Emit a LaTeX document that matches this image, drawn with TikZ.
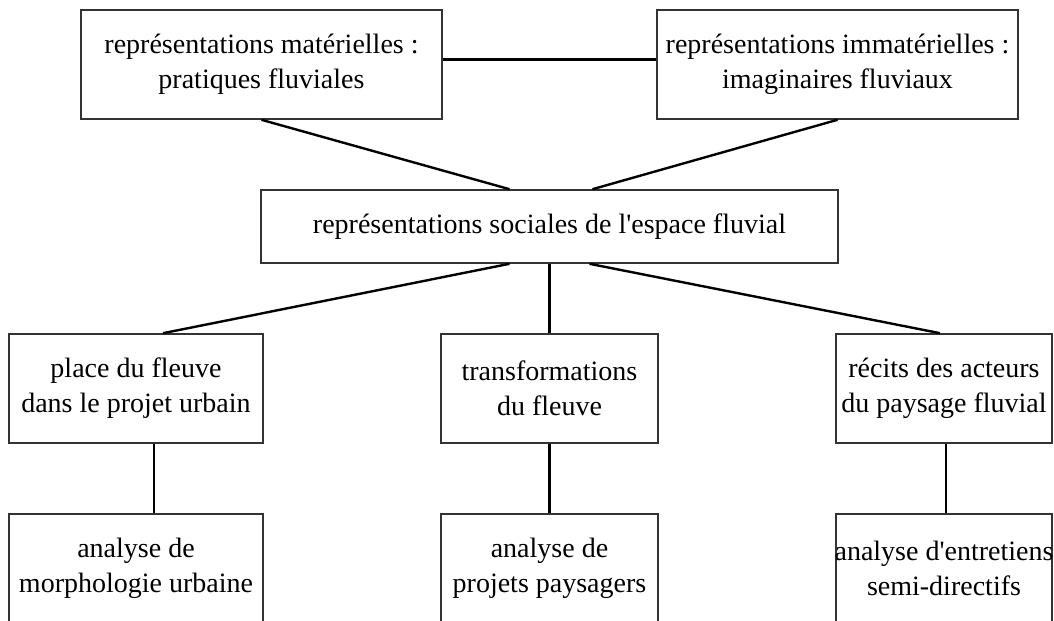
\documentclass[tikz,border=0pt]{standalone}
\usepackage{fontspec}
\newfontfamily\diagfont{Liberation Serif}
\usetikzlibrary{calc}
\begin{document}
\begin{tikzpicture}[x=0.75pt,y=-0.75pt,
  box/.style={draw=black!80, line width=1.2pt, fill=white, align=center, inner sep=0pt,
    font=\diagfont\fontsize{21}{26.25}\selectfont},
  link/.style={line width=1.8pt, draw=black}]
\useasboundingbox (0,0) rectangle (1054,621);
% top row
\node[box, minimum width=270.75pt, minimum height=81.75pt] (tl) at (261.5,64.5)
  {représentations matérielles :\\pratiques fluviales};
\node[box, minimum width=270.75pt, minimum height=81.75pt] (tr) at (837.5,64.5)
  {représentations immatérielles :\\imaginaires fluviaux};
% middle
\node[box, minimum width=432.75pt, minimum height=54.75pt] (mid) at (549.5,226.5)
  {représentations sociales de l'espace fluvial};
% second row
\node[box, minimum width=190.5pt, minimum height=81.75pt] (pl) at (136,388.5)
  {place du fleuve\\dans le projet urbain};
\node[box, minimum width=162.75pt, minimum height=81.75pt] (tf) at (549.5,388.5)
  {transformations\\du fleuve};
\node[box, minimum width=162pt, minimum height=81.75pt] (ra) at (944,388.5)
  {récits des acteurs\\du paysage fluvial};
% third row
\node[box, minimum width=190.5pt, minimum height=81.75pt] (am) at (136,568.5)
  {analyse de\\morphologie urbaine};
\node[box, minimum width=162.75pt, minimum height=81.75pt] (ap) at (549.5,568.5)
  {analyse de\\projets paysagers};
\node[box, minimum width=162pt, minimum height=81.75pt, inner xsep=-10pt] (ae) at (944,568.5)
  {analyse d'entretiens\\semi-directifs};
% connectors
\draw[link] ($(tl.east)+(0,-5)$) -- ($(tr.west)+(0,-5)$);
\draw[link] (tl.south) -- ($(mid.north)+(-40,0)$);
\draw[link] (tr.south) -- ($(mid.north)+(43,0)$);
\draw[link] ($(mid.south)+(-40,0)$) -- ($(pl.north)+(27,0)$);
\draw[link] (mid.south) -- (tf.north);
\draw[link] ($(mid.south)+(40,0)$) -- ($(ra.north)+(-4,0)$);
\draw[link] ($(pl.south)+(18,0)$) -- ($(am.north)+(18,0)$);
\draw[link] (tf.south) -- (ap.north);
\draw[link] ($(ra.south)+(2,0)$) -- ($(ae.north)+(2,0)$);
\end{tikzpicture}
\end{document}
